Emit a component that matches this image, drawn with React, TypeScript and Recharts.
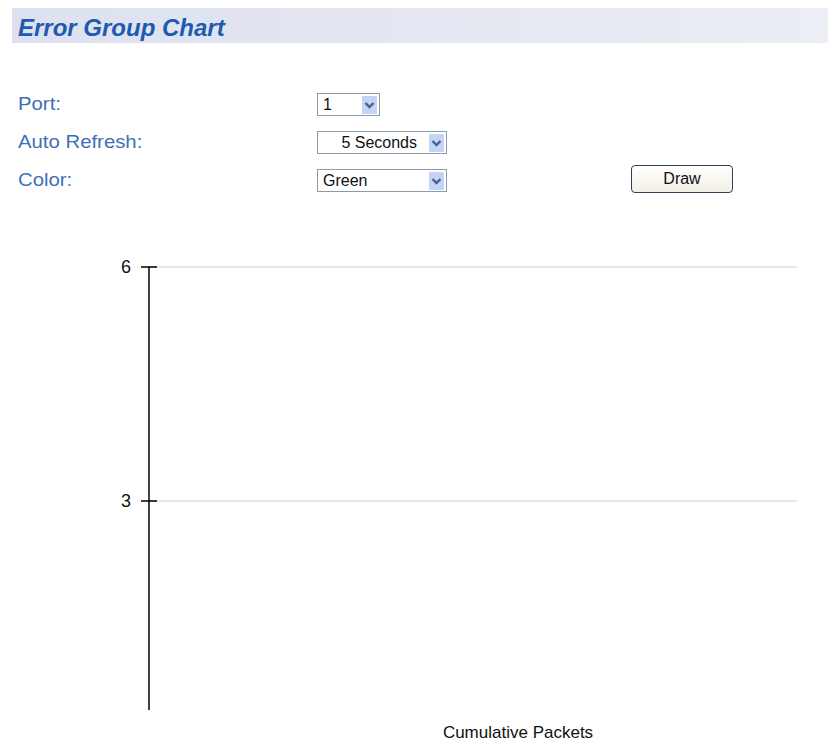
import {CartesianGrid, Label, Line, LineChart, XAxis, YAxis} from 'recharts';

// the chart in the screenshot is empty: one category, no error value yet
const packetCategories: string[] = ['0'];
const errorCounts: (number | null)[] = [null];
const yTicks: number[] = [3, 6];
const yDomain: [number, number] = [0.32, 6];

const portOptions = ['1'];
const refreshOptions = ['5 Seconds'];
const colorOptions = ['Green'];

const chartData = packetCategories.map((packets, i) => ({
	packets,
	errors: errorCounts[i],
}));

const FONT = 'Arial, "Liberation Sans", sans-serif';
const LABEL_BLUE = '#3d70b4';

function Chevron() {
	return (
		<svg width={15} height={18} style={{display: 'block'}}>
			<rect x={0} y={0} width={15} height={18} fill="#c3d4f5" />
			<polyline
				points="3.5,7 7.5,11 11.5,7"
				fill="none"
				stroke="#4a5f8c"
				strokeWidth={2.4}
			/>
		</svg>
	);
}

function FakeSelect({
	left,
	top,
	width,
	value,
	textAlign = 'left',
}: {
	left: number;
	top: number;
	width: number;
	value: string;
	textAlign?: 'left' | 'right';
}) {
	return (
		<div
			style={{
				position: 'absolute',
				left,
				top,
				width,
				height: 23,
				border: '1px solid #8d9aab',
				background: '#fff',
				boxSizing: 'border-box',
				fontFamily: FONT,
				fontSize: 16,
				color: '#111',
			}}
		>
			<div
				style={{
					position: 'absolute',
					left: 5,
					right: textAlign === 'right' ? 29 : 20,
					top: 2,
					textAlign,
				}}
			>
				{value}
			</div>
			<div style={{position: 'absolute', right: 2, top: 2}}>
				<Chevron />
			</div>
		</div>
	);
}

function AxisTick(props: any) {
	const {x, y, payload} = props;
	return (
		<g>
			<line x1={x - 8} x2={x + 8} y1={y} y2={y} stroke="#000" strokeWidth={1.5} />
			<text
				x={x - 18}
				y={y}
				dy={6}
				textAnchor="end"
				style={{fontSize: 18, fontFamily: FONT}}
				fill="#111"
			>
				{payload.value}
			</text>
		</g>
	);
}

export default function App() {
	return (
		<div
			style={{
				position: 'absolute',
				left: 0,
				top: 0,
				width: 828,
				height: 742,
				background: '#fff',
				overflow: 'hidden',
			}}
		>
			<div
				style={{
					position: 'absolute',
					left: 12,
					top: 8,
					width: 816,
					height: 35,
					background: 'linear-gradient(to right, #dde1ef, #e6e8f2 60%, #eceef5)',
				}}
			/>
			<div
				style={{
					position: 'absolute',
					left: 18,
					top: 14,
					fontFamily: FONT,
					fontSize: 24,
					fontWeight: 'bold',
					fontStyle: 'italic',
					color: '#1d5ab0',
				}}
			>
				Error Group Chart
			</div>

			{[
				{text: 'Port:', top: 93},
				{text: 'Auto Refresh:', top: 131},
				{text: 'Color:', top: 169},
			].map(row => (
				<div
					key={row.text}
					style={{
						position: 'absolute',
						left: 18,
						top: row.top,
						fontFamily: FONT,
						fontSize: 19,
						color: LABEL_BLUE,
						transform: 'scaleX(1.07)',
						transformOrigin: 'left',
					}}
				>
					{row.text}
				</div>
			))}

			<FakeSelect left={317} top={93} width={63} value={portOptions[0]} />
			<FakeSelect
				left={317}
				top={131}
				width={130}
				value={refreshOptions[0]}
				textAlign="right"
			/>
			<FakeSelect left={317} top={169} width={130} value={colorOptions[0]} />

			<div
				style={{
					position: 'absolute',
					left: 631,
					top: 165,
					width: 102,
					height: 28,
					boxSizing: 'border-box',
					border: '1px solid #2f3f55',
					borderRadius: 4,
					background: 'linear-gradient(to bottom, #ffffff, #f1efe6)',
					fontFamily: FONT,
					fontSize: 16,
					color: '#111',
					textAlign: 'center',
					lineHeight: '26px',
				}}
			>
				Draw
			</div>

			<div style={{position: 'absolute', left: 0, top: 0}}>
				<LineChart
					width={828}
					height={742}
					data={chartData}
					margin={{top: 267, right: 31, bottom: 0, left: 89}}
				>
					<CartesianGrid
						vertical={false}
						stroke="#dedede"
						strokeWidth={1.5}
						syncWithTicks
					/>
					<XAxis
						dataKey="packets"
						axisLine={false}
						tickLine={false}
						tick={false}
						height={32}
					>
						<Label
							value="Cumulative Packets"
							position="insideBottom"
							offset={4}
							dx={45}
							fontSize={17}
							fontFamily={FONT}
							fill="#111"
						/>
					</XAxis>
					<YAxis
						type="number"
						domain={yDomain}
						ticks={yTicks}
						width={60}
						tickSize={0}
						tickMargin={0}
						tickLine={false}
						axisLine={{stroke: '#000', strokeWidth: 1.5}}
						tick={<AxisTick />}
						allowDataOverflow
					/>
					<Line
						dataKey="errors"
						stroke="#2e9e2e"
						dot={false}
						isAnimationActive={false}
					/>
				</LineChart>
			</div>
		</div>
	);
}
